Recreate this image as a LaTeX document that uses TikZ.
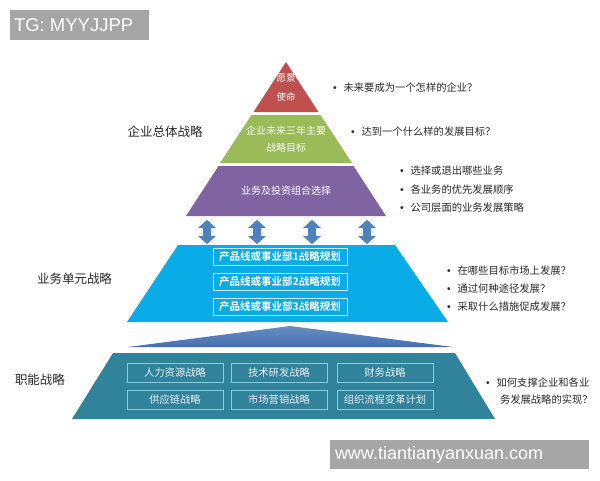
\documentclass[tikz,border=0pt]{standalone}
\usepackage{fontspec}
\setmainfont{Liberation Sans}
\newfontfamily\cjk{Noto Sans CJK SC}
\newfontfamily\cjkbold{Noto Sans CJK SC Bold}
\definecolor{redp}{RGB}{192,80,77}
\definecolor{greenp}{RGB}{155,187,89}
\definecolor{purp}{RGB}{128,100,162}
\definecolor{arrb}{RGB}{79,129,189}
\definecolor{cyanp}{RGB}{10,172,232}
\definecolor{roofb}{RGB}{68,112,176}
\definecolor{tealp}{RGB}{49,131,155}
\definecolor{tealln}{RGB}{140,205,220}
\definecolor{wmg}{RGB}{166,166,166}
\definecolor{txt}{RGB}{40,40,40}
\begin{document}
\begin{tikzpicture}[x=1pt,y=-1pt,
  every node/.style={inner sep=0pt,outer sep=0pt},
  lbl/.style={font=\cjk\fontsize{12.5}{14}\selectfont,text=txt},
  bul/.style={anchor=west,font=\fontsize{10.3}{12}\selectfont,text=txt},
  intext/.style={font=\cjk\fontsize{10}{12}\selectfont,text=white,align=center},
  cbox/.style={draw=white!75!cyanp,line width=0.8pt,minimum width=134pt,minimum height=17pt,
    font=\cjkbold\fontsize{10.5}{12}\selectfont,text=white},
  tbox/.style={draw=tealln,line width=0.8pt,minimum width=96pt,minimum height=19pt,
    font=\cjk\fontsize{10.3}{12}\selectfont,text=white!88!tealp},
  dblarrow/.style={fill=arrb},
  wmbox/.style={fill=wmg,text=white,anchor=west}
]
\useasboundingbox (0,0) rectangle (600,480);
\fill[white] (0,0) rectangle (600,480);

% watermark top
\fill[wmg] (10,10) rectangle (149,40);
\node[text=white,anchor=west,font=\fontsize{18.5}{20}\selectfont] (tg) at (14,25.5) {TG: MYYJJPP};

% pyramid top layers
\fill[redp] (286,62) -- (318.5,112) -- (253.5,112) -- cycle;
\fill[greenp] (251.5,115) -- (320.5,115) -- (352,163) -- (220,163) -- cycle;
\fill[purp] (218.5,166) -- (353.5,166) -- (386,216) -- (186,216) -- cycle;

\node[intext,font=\cjk\fontsize{9.5}{11}\selectfont] (vision) at (286,78) {愿景};
\node[intext,font=\cjk\fontsize{9.5}{11}\selectfont] (mission) at (286,97) {使命};
\node[intext,text=white!92!greenp] (goal1) at (286,131) {企业未来三年主要};
\node[intext,text=white!92!greenp] (goal2) at (286,148) {战略目标};
\node[intext] (portfolio) at (286,191) {业务及投资组合选择};

% double arrows
\foreach \cx/\nm in {207/a1,257/a2,312/a3,367/a4}{
  \fill[dblarrow] (\cx,220) -- (\cx+9,228) -- (\cx+4,228) -- (\cx+4,236) -- (\cx+9,236)
    -- (\cx,244) -- (\cx-9,236) -- (\cx-4,236) -- (\cx-4,228) -- (\cx-9,228) -- cycle;
}

% business unit layer
\fill[cyanp] (178,245) -- (395,245) -- (448,322) -- (127,322) -- cycle;
\node[cbox] (bu1) at (280,257) {产品线或事业部1战略规划};
\node[cbox] (bu2) at (280,282) {产品线或事业部2战略规划};
\node[cbox] (bu3) at (280,306.5) {产品线或事业部3战略规划};

% roof
\shade[top color=roofb!80!white,bottom color=roofb] (290,326) -- (453,347) -- (128,347) -- cycle;

% functional layer
\fill[tealp] (113,353) -- (455,353) -- (495,419) -- (72,419) -- cycle;
\node[tbox] (f1) at (175,373) {人力资源战略};
\node[tbox] (f2) at (279,373) {技术研发战略};
\node[tbox] (f3) at (385,373) {财务战略};
\node[tbox] (f4) at (175,399.5) {供应链战略};
\node[tbox] (f5) at (279,399.5) {市场营销战略};
\node[tbox] (f6) at (385,399.5) {组织流程变革计划};

% left labels
\node[lbl] (corp) at (165,132) {企业总体战略};
\node[lbl] (bus) at (74.5,279) {业务单元战略};
\node[lbl] (func) at (40,380) {职能战略};

% right bullets
\node[bul] (q1) at (333,88) {•\hspace{7pt}{\cjk 未来要成为一个怎样的企业？}};
\node[bul] (q2) at (351,132) {•\hspace{7pt}{\cjk 达到一个什么样的发展目标？}};
\node[bul] (q3) at (400,171) {•\hspace{7pt}{\cjk 选择或退出哪些业务}};
\node[bul] (q4) at (400,189.5) {•\hspace{7pt}{\cjk 各业务的优先发展顺序}};
\node[bul] (q5) at (400,208) {•\hspace{7pt}{\cjk 公司层面的业务发展策略}};
\node[bul] (q6) at (447,271) {•\hspace{7pt}{\cjk 在哪些目标市场上发展？}};
\node[bul] (q7) at (447,289) {•\hspace{7pt}{\cjk 通过何种途径发展？}};
\node[bul] (q8) at (447,307) {•\hspace{7pt}{\cjk 采取什么措施促成发展？}};
\node[bul] (q9) at (486,383) {•\hspace{7pt}{\cjk 如何支撑企业和各业}};
\node[bul,font=\cjk\fontsize{10.3}{12}\selectfont] (q9b) at (500,400) {务发展战略的实现？};

% watermark bottom
\fill[wmg] (330,440) rectangle (589,469);
\node[text=white,anchor=west,font=\fontsize{18}{20}\selectfont] (url) at (335,454.5) {www.tiantianyanxuan.com};
\end{tikzpicture}
\end{document}
